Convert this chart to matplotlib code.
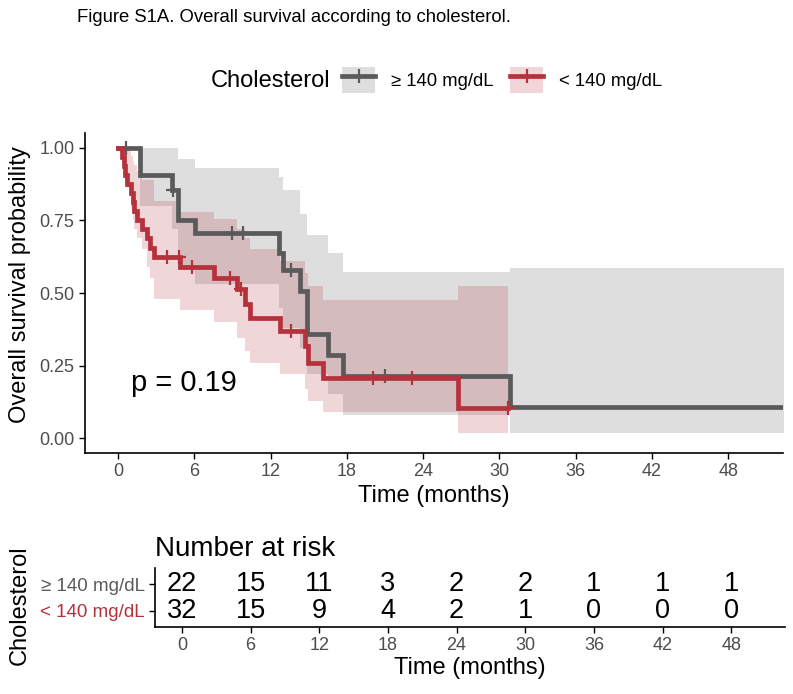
import numpy as np
import matplotlib
matplotlib.use("Agg")
import matplotlib.pyplot as plt
from matplotlib.lines import Line2D
from matplotlib.patches import Patch

plt.rcParams["font.family"] = ["Liberation Sans", "DejaVu Sans"]

# colours
GRAY = "#5A5A5A"
RED = "#B5323D"

# >= 140 mg/dL group
gray_event_t = [1.73, 4.25, 4.72, 6.06, 12.67, 12.98, 14.32, 14.87, 16.52, 17.70, 30.84]
gray_surv = [0.907, 0.853, 0.750, 0.705, 0.637, 0.579, 0.507, 0.360, 0.288, 0.216, 0.108]
gray_upper = [1.0, 1.0, 0.962, 0.928, 0.900, 0.853, 0.770, 0.700, 0.637, 0.572, 0.586]
gray_lower = [0.80, 0.72, 0.58, 0.53, 0.45, 0.38, 0.31, 0.22, 0.154, 0.082, 0.02]
gray_cens_t = [0.63, 4.35, 8.97, 9.83, 13.61, 21.0]
gray_end = 55.0

# < 140 mg/dL group
red_event_t = [0.31, 0.43, 0.55, 0.67, 1.02, 1.14, 1.26, 1.49, 1.89, 2.28, 2.52, 2.83,
               4.88, 7.55, 9.36, 9.99, 10.39, 12.75, 14.71, 14.95, 16.13, 26.75]
red_surv = [0.969, 0.938, 0.906, 0.875, 0.844, 0.813, 0.781, 0.750, 0.719, 0.688, 0.656, 0.625,
            0.590, 0.553, 0.514, 0.462, 0.415, 0.370, 0.318, 0.260, 0.209, 0.105]
red_upper = [1.0, 1.0, 1.0, 0.99, 0.97, 0.955, 0.94, 0.92, 0.89, 0.89, 0.89, 0.815,
             0.78, 0.753, 0.72, 0.69, 0.65, 0.61, 0.57, 0.524, 0.476, 0.524]
red_lower = [0.93, 0.90, 0.88, 0.86, 0.79, 0.75, 0.72, 0.69, 0.65, 0.59, 0.55, 0.48,
             0.44, 0.40, 0.346, 0.30, 0.26, 0.22, 0.17, 0.13, 0.09, 0.02]
red_cens_t = [3.86, 4.80, 5.82, 8.81, 9.68, 13.61, 20.06, 23.13, 30.68]
red_end = 30.68

# number at risk table
risk_times = [0, 6, 12, 18, 24, 30, 36, 42, 48]
gray_risk = [22, 15, 11, 3, 2, 2, 1, 1, 1]
red_risk = [32, 15, 9, 4, 2, 1, 0, 0, 0]

group_labels = ["\u2265 140 mg/dL", "< 140 mg/dL"]
p_text = "p = 0.19"

W, H = 793, 694
fig = plt.figure(figsize=(W / 100, H / 100), dpi=100)


def px_axes(l, t, r, b):
    return fig.add_axes([l / W, 1 - b / H, (r - l) / W, (b - t) / H])


ax = px_axes(85, 133, 783, 453)


def draw_group(ev_t, surv, up, lo, cens_t, end, color):
    t = np.concatenate([[0.0], ev_t, [end]])
    s = np.concatenate([[1.0], surv, [surv[-1]]])
    u = np.concatenate([[1.0], up, [up[-1]]])
    l = np.concatenate([[1.0], lo, [lo[-1]]])
    ax.fill_between(t, l, u, step="post", color=color, alpha=0.2, lw=0)
    ax.step(t, s, where="post", color=color, lw=3.4, solid_joinstyle="miter")
    idx = np.searchsorted(t, cens_t, side="right") - 1
    ax.plot(cens_t, s[idx], ls="none", marker="+", ms=10, mew=1.6, color=color)


draw_group(gray_event_t, gray_surv, gray_upper, gray_lower, gray_cens_t, gray_end, GRAY)
draw_group(red_event_t, red_surv, red_upper, red_lower, red_cens_t, red_end, RED)

ax.set_xlim(-2.6, 52.3)
ax.set_ylim(-0.05, 1.05)
ax.set_xticks(risk_times)
ax.set_yticks([0, 0.25, 0.5, 0.75, 1.0])
ax.set_yticklabels(["0.00", "0.25", "0.50", "0.75", "1.00"])
for sp in ["top", "right"]:
    ax.spines[sp].set_visible(False)
for sp in ["left", "bottom"]:
    ax.spines[sp].set_linewidth(1.2)
ax.tick_params(labelsize=13, colors="#4D4D4D", length=4, width=1.0)
ax.tick_params(color="black")
ax.set_xlabel("Time (months)", fontsize=17, labelpad=3)
ax.text(1.0, 0.19, p_text, fontsize=21, va="center", ha="left")

fig.text(20 / W, 1 - 285 / H, "Overall survival probability", rotation=90,
         fontsize=17, ha="center", va="center")

# title
fig.text(77 / W, 1 - 18 / H, "Figure S1A. Overall survival according to cholesterol.",
         fontsize=13.3, ha="left", va="center")

# legend
fig.text(330 / W, 1 - 81 / H, "Cholesterol", fontsize=17, ha="right", va="center")
handles = [
    (Patch(facecolor=GRAY, alpha=0.2, lw=0),
     Line2D([], [], color=GRAY, lw=3.4, marker="+", ms=10, mew=1.6)),
    (Patch(facecolor=RED, alpha=0.2, lw=0),
     Line2D([], [], color=RED, lw=3.4, marker="+", ms=10, mew=1.6)),
]
fig.legend(handles, group_labels, ncol=2, frameon=False, fontsize=13.3,
           loc="center left", bbox_to_anchor=(342 / W, 1 - 80 / H),
           handlelength=1.8, handleheight=1.85, handletextpad=0.85,
           columnspacing=0.9, borderaxespad=0, borderpad=0)

# risk table
rx = px_axes(155, 568, 785, 627)
for i, t in enumerate(risk_times):
    rx.text(t, 2, str(gray_risk[i]), fontsize=19.5, ha="center", va="center")
    rx.text(t, 1, str(red_risk[i]), fontsize=19.5, ha="center", va="center")
rx.set_xlim(-2.36, 52.7)
rx.set_ylim(0.4, 2.6)
rx.set_xticks(risk_times)
rx.set_yticks([2, 1])
rx.set_yticklabels(group_labels)
for sp in ["top", "right"]:
    rx.spines[sp].set_visible(False)
for sp in ["left", "bottom"]:
    rx.spines[sp].set_linewidth(1.2)
rx.tick_params(labelsize=13, colors="#4D4D4D", length=4, width=1.0)
rx.tick_params(axis="y", labelsize=13.5)
rx.tick_params(color="black")
for lab, c in zip(rx.get_yticklabels(), [GRAY, RED]):
    lab.set_color(c)
rx.set_xlabel("Time (months)", fontsize=17, labelpad=2)
rx.set_title("Number at risk", loc="left", fontsize=20, pad=9)
fig.text(20 / W, 1 - 605 / H, "Cholesterol", rotation=90, fontsize=17,
         ha="center", va="center")

fig.savefig("out.png", dpi=100)
